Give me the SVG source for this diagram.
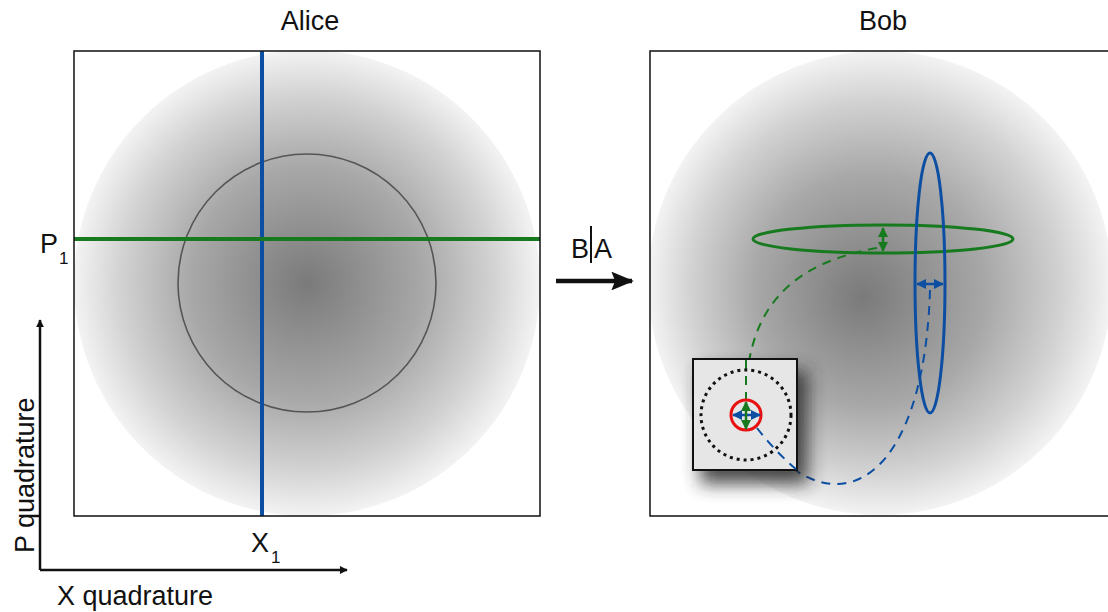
<svg xmlns="http://www.w3.org/2000/svg" width="1108" height="612" viewBox="0 0 1108 612">
<style>
text{font-family:"Liberation Sans",Arial,sans-serif;fill:#111}
.t{font-size:27px}
.sub{font-size:17px}
.frame{fill:none;stroke:#111;stroke-width:1.5}
.blue{stroke:#0b4ea2;fill:none}
.green{stroke:#187a1f;fill:none}
</style>
<defs>
<radialGradient id="gA" cx="307" cy="283" r="233" gradientUnits="userSpaceOnUse">
<stop offset="0" stop-color="#7a7a7a"/>
<stop offset="0.5" stop-color="#a8a8a8"/>
<stop offset="0.8" stop-color="#d2d2d2"/>
<stop offset="1" stop-color="#f3f3f3"/>
</radialGradient>
<radialGradient id="gB" cx="880" cy="283" r="232" fx="862" fy="298" gradientUnits="userSpaceOnUse">
<stop offset="0" stop-color="#7a7a7a"/>
<stop offset="0.5" stop-color="#a8a8a8"/>
<stop offset="0.8" stop-color="#d2d2d2"/>
<stop offset="1" stop-color="#f3f3f3"/>
</radialGradient>
<filter id="blur" x="-50%" y="-50%" width="200%" height="200%"><feGaussianBlur stdDeviation="9"/></filter>
<marker id="ab" viewBox="0 0 10 10" refX="9" refY="5" markerWidth="4" markerHeight="4" orient="auto-start-reverse"><path d="M0,0L10,5L0,10z" fill="#0b4ea2"/></marker>
<marker id="ag" viewBox="0 0 10 10" refX="9" refY="5" markerWidth="4" markerHeight="4" orient="auto-start-reverse"><path d="M0,0L10,5L0,10z" fill="#187a1f"/></marker>
<marker id="ak" viewBox="0 0 12 10" refX="11" refY="5" markerWidth="5" markerHeight="4.2" orient="auto"><path d="M0,0L12,5L0,10L2,5z" fill="#111"/></marker>
<marker id="ak2" viewBox="0 0 10 10" refX="9" refY="5" markerWidth="3.2" markerHeight="3.2" orient="auto"><path d="M0,0L10,5L0,10z" fill="#111"/></marker>
<clipPath id="cB"><rect x="650" y="51" width="470" height="465"/></clipPath>
</defs>

<g id="alice">
<text class="t" x="310" y="30" text-anchor="middle">Alice</text>
<circle cx="307" cy="283" r="233" fill="url(#gA)"/>
<circle cx="307" cy="283" r="129" fill="none" stroke="#555" stroke-width="1.6"/>
<line x1="262" y1="51" x2="262" y2="516" class="blue" stroke-width="4"/>
<line x1="74" y1="239" x2="540" y2="239" class="green" stroke-width="4"/>
<rect x="74" y="51" width="466" height="465" class="frame"/>
<text class="t" x="40" y="253">P</text><text class="sub" x="59" y="264">1</text>
<text class="t" x="251" y="552">X</text><text class="sub" x="271" y="563">1</text>
</g>

<g id="axes">
<line x1="40" y1="570" x2="40" y2="320" stroke="#111" stroke-width="2.5" marker-end="url(#ak2)"/>
<line x1="40" y1="570" x2="347" y2="570" stroke="#111" stroke-width="2.5" marker-end="url(#ak2)"/>
<text class="t" x="57" y="605">X quadrature</text>
<text class="t" transform="translate(34,553) rotate(-90)">P quadrature</text>
</g>

<g id="transfer">
<text class="t" x="571" y="258">B</text>
<line x1="591" y1="226" x2="591" y2="263" stroke="#111" stroke-width="2"/>
<text class="t" x="594" y="258">A</text>
<line x1="556" y1="281" x2="632" y2="281" stroke="#111" stroke-width="4.5" marker-end="url(#ak)"/>
</g>

<g id="bob">
<text class="t" x="883" y="30" text-anchor="middle">Bob</text>
<g clip-path="url(#cB)">
<circle cx="880" cy="283" r="232" fill="url(#gB)"/>
</g>
<rect x="650" y="51" width="470" height="465" class="frame"/>
</g>

<g id="connectors">
<path d="M877,248 C800,262 745,300 746,402" class="green" stroke-width="2" stroke-dasharray="9,7"/>
<path d="M930,290 C926,420 885,485 835,484 C800,483 775,455 757,428" class="blue" stroke-width="2" stroke-dasharray="9,7"/>
</g>

<g id="green-ellipse">
<ellipse cx="883" cy="239" rx="130" ry="14" class="green" stroke-width="3"/>
<line x1="883" y1="228" x2="883" y2="251" class="green" stroke-width="2.5" marker-start="url(#ag)" marker-end="url(#ag)"/>
</g>
<g id="blue-ellipse">
<ellipse cx="930" cy="283" rx="15" ry="130" class="blue" stroke-width="3"/>
<line x1="917" y1="284" x2="943" y2="284" class="blue" stroke-width="2.5" marker-start="url(#ab)" marker-end="url(#ab)"/>
</g>

<g id="inset">
<rect x="700" y="370" width="108" height="114" fill="#2a2a2a" filter="url(#blur)" opacity="0.85"/>
<rect x="693" y="359" width="104" height="111" fill="#e6e6e6" stroke="#111" stroke-width="2"/>
<path d="M746,360 L746,402" class="green" stroke-width="2" stroke-dasharray="9,7"/>
<path d="M757,428 C770,445 785,460 797,470" class="blue" stroke-width="2" stroke-dasharray="9,7"/>
<circle cx="746" cy="415" r="45" fill="none" stroke="#111" stroke-width="3" stroke-dasharray="3,4"/>
<circle cx="746" cy="415" r="15" fill="none" stroke="#e81010" stroke-width="3"/>
<line x1="733" y1="415" x2="760" y2="415" class="blue" stroke-width="2.5" marker-start="url(#ab)" marker-end="url(#ab)"/>
<line x1="746" y1="402" x2="746" y2="429" class="green" stroke-width="2.5" marker-start="url(#ag)" marker-end="url(#ag)"/>
</g>
</svg>
